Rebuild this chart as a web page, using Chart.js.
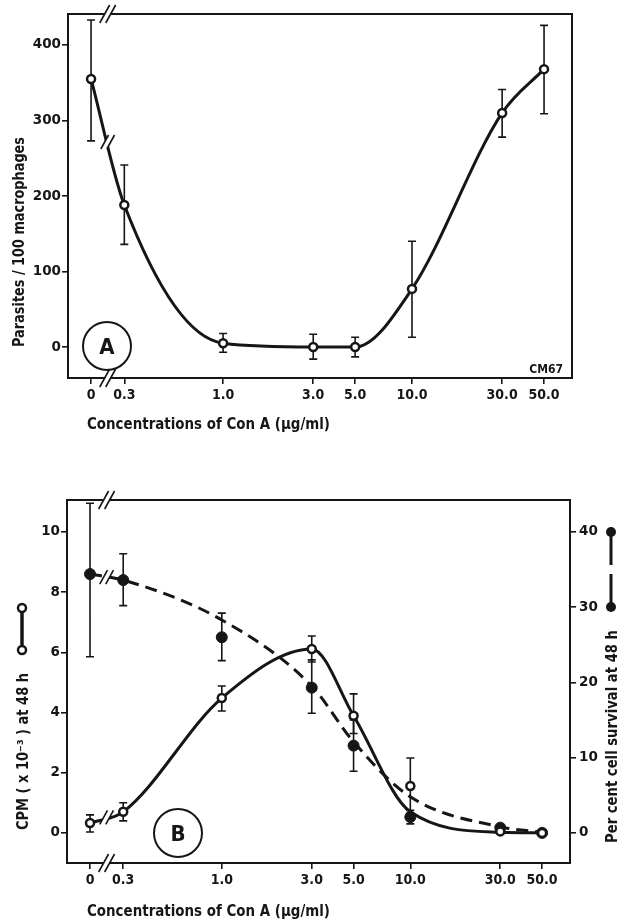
<!DOCTYPE html>
<html>
<head>
<meta charset="utf-8">
<script src="https://cdn.jsdelivr.net/npm/chart.js@4.4.1/dist/chart.umd.min.js"></script>
<style>
  html, body { margin: 0; padding: 0; background: #fff; }
  canvas { position: absolute; left: 0; }
  #chartA { top: 0; }
  #chartB { top: 440px; }
</style>
</head>
<body>
<canvas id="chartA" width="621" height="440"></canvas>
<canvas id="chartB" width="621" height="480"></canvas>
<script>
// Con A concentrations (0 is drawn past the axis break, at 0.2 on the log axis)
const concLabels = ['0', '0.3', '1.0', '3.0', '5.0', '10.0', '30.0', '50.0'];
const concPos = [0.2, 0.3, 1, 3, 5, 10, 30, 50];

// Panel A - parasites / 100 macrophages
const parasites = [355, 188, 5, 0, 0, 77, 310, 368];
const parasitesHigh = [433, 241, 18, 17, 13, 140, 341, 426];
const parasitesLow = [273, 136, -7, -16, -13, 13, 278, 309];
const parasiteTicks = [0, 100, 200, 300, 400];

// Panel B - CPM (x 10^-3) at 48 h, open circles
const cpm = [0.33, 0.7, 4.48, 6.11, 3.89, 1.56, 0.05, 0];
const cpmHigh = [0.6, 1.0, 4.88, 6.54, 4.62, 2.49, null, null];
const cpmLow = [0.03, 0.4, 4.05, 5.68, 3.3, 0.66, null, null];
const cpmCurve = [0.33, 0.7, 4.48, 6.11, 3.89, 0.7, 0.02, 0];
const cpmTicks = [0, 2, 4, 6, 8, 10];

// Panel B - per cent cell survival at 48 h, filled circles
const survival = [34.4, 33.6, 26.0, 19.3, 11.6, 2.1, 0.7, 0];
const survivalHigh = [43.8, 37.1, 29.2, 23.0, 15.0, 3.0, null, null];
const survivalLow = [23.4, 30.2, 22.9, 15.9, 8.2, 1.2, null, null];
const survivalCurve = [34.4, 33.6, 28.3, 19.5, 12.1, 4.8, 0.8, 0.1];
const survivalTicks = [0, 10, 20, 30, 40];

const ink = '#161616';
const fontWide = '"DejaVu Sans", sans-serif';
const fontNarrow = '"DejaVu Sans Condensed", "DejaVu Sans", sans-serif';
const titleFont = 'bold 15px ' + fontWide;

const pts = (vals) => concPos.map((x, i) => ({ x: x, y: vals[i] }));

function xAxis(height) {
  return {
    type: 'logarithmic',
    min: 0.151,
    max: 70.3,
    afterBuildTicks: s => { s.ticks = concPos.map(v => ({ value: v })); },
    afterFit: s => { s.height = height; },
    ticks: {
      callback: (v, i) => concLabels[i],
      autoSkip: false, maxRotation: 0, padding: 3, color: ink,
      font: { family: fontNarrow, size: 14, weight: 'bold' }
    },
    grid: { drawOnChartArea: false, tickLength: 6, color: ink, lineWidth: 1.6 },
    border: { display: false }
  };
}

function yAxis(min, max, ticks, width, position) {
  return {
    position: position,
    min: min,
    max: max,
    afterBuildTicks: s => { s.ticks = ticks.map(v => ({ value: v })); },
    afterFit: s => { s.width = width; },
    ticks: { padding: position === 'right' ? 3 : 1, color: ink, font: { family: fontWide, size: 13.5, weight: 'bold' } },
    grid: { drawOnChartArea: false, tickLength: 6, color: ink, lineWidth: 1.6 },
    border: { display: false }
  };
}

// ---- drawing helpers ----
function errorBars(chart, axisId, highs, lows) {
  const ctx = chart.ctx, xs = chart.scales.x, ys = chart.scales[axisId];
  ctx.save();
  ctx.strokeStyle = ink;
  ctx.lineWidth = 1.6;
  ctx.beginPath();
  concPos.forEach((xv, i) => {
    if (highs[i] == null) return;
    const px = xs.getPixelForValue(xv);
    const top = ys.getPixelForValue(highs[i]);
    const bot = ys.getPixelForValue(lows[i]);
    ctx.moveTo(px, top); ctx.lineTo(px, bot);
    ctx.moveTo(px - 4, top); ctx.lineTo(px + 4, top);
    ctx.moveTo(px - 4, bot); ctx.lineTo(px + 4, bot);
  });
  ctx.stroke();
  ctx.restore();
}

function breakMark(ctx, cx, cy, h) {
  const w = h * 0.55, gap = 3;
  ctx.save();
  ctx.fillStyle = '#fff';
  ctx.beginPath();
  ctx.moveTo(cx - gap - w / 2, cy + h / 2);
  ctx.lineTo(cx - gap + w / 2, cy - h / 2);
  ctx.lineTo(cx + gap + w / 2, cy - h / 2);
  ctx.lineTo(cx + gap - w / 2, cy + h / 2);
  ctx.closePath();
  ctx.fill();
  ctx.strokeStyle = ink;
  ctx.lineWidth = 1.6;
  ctx.beginPath();
  [-gap, gap].forEach(d => {
    ctx.moveTo(cx + d - w / 2, cy + h / 2);
    ctx.lineTo(cx + d + w / 2, cy - h / 2);
  });
  ctx.stroke();
  ctx.restore();
}

// break on a curve, between the "0" and "0.3" points
function curveBreak(chart, di, bx) {
  const p = chart.getDatasetMeta(di).data;
  const t = (bx - p[0].x) / (p[1].x - p[0].x);
  breakMark(chart.ctx, bx, p[0].y + t * (p[1].y - p[0].y), 14);
}

function frame(ctx, a) {
  ctx.save();
  ctx.strokeStyle = ink;
  ctx.lineWidth = 2;
  ctx.strokeRect(a.left, a.top, a.right - a.left, a.bottom - a.top);
  ctx.restore();
}

function fitText(ctx, text, x, y, width, angle) {
  ctx.save();
  ctx.font = titleFont;
  ctx.fillStyle = ink;
  ctx.textAlign = 'left';
  ctx.textBaseline = 'alphabetic';
  ctx.translate(x, y);
  ctx.rotate(angle);
  ctx.scale(width / ctx.measureText(text).width, 1);
  ctx.fillText(text, 0, 0);
  ctx.restore();
}

function panelLetter(ctx, letter, cx, cy) {
  ctx.save();
  ctx.strokeStyle = ink;
  ctx.lineWidth = 2;
  ctx.beginPath();
  ctx.arc(cx, cy, 24, 0, Math.PI * 2);
  ctx.stroke();
  ctx.fillStyle = ink;
  ctx.font = 'bold 22px ' + fontNarrow;
  ctx.textAlign = 'center';
  ctx.textBaseline = 'alphabetic';
  ctx.fillText(letter, cx, cy + 8);
  ctx.restore();
}

// ---- panel A ----
const decoA = {
  id: 'decoA',
  beforeDatasetsDraw(chart) {
    errorBars(chart, 'y', parasitesHigh, parasitesLow);
  },
  afterDatasetsDraw(chart) {
    const ctx = chart.ctx, a = chart.chartArea;
    frame(ctx, a);
    const bx = chart.scales.x.getPixelForValue(Math.sqrt(concPos[0] * concPos[1]));
    breakMark(ctx, bx, a.top, 18);
    breakMark(ctx, bx, a.bottom, 18);
    curveBreak(chart, 0, bx);
    panelLetter(ctx, 'A', a.left + 39, a.bottom - 32);
    ctx.save();
    ctx.fillStyle = ink;
    ctx.font = 'bold 12px ' + fontNarrow;
    ctx.textAlign = 'right';
    ctx.fillText('CM67', a.right - 9, a.bottom - 5);
    ctx.restore();
  },
  afterDraw(chart) {
    const ctx = chart.ctx;
    fitText(ctx, 'Concentrations of Con A (\u03bcg/ml)', 87, 429, 243, 0);
    fitText(ctx, 'Parasites / 100 macrophages', 24, 347, 210, -Math.PI / 2);
  }
};

new Chart(document.getElementById('chartA'), {
  type: 'line',
  data: {
    datasets: [{
      data: pts(parasites),
      borderColor: ink,
      borderWidth: 3,
      cubicInterpolationMode: 'monotone',
      pointRadius: 4,
      pointBorderWidth: 2.5,
      pointBackgroundColor: '#fff',
      pointBorderColor: ink
    }]
  },
  options: {
    responsive: false,
    animation: false,
    layout: { padding: { top: 14, right: 49, left: 0, bottom: 0 } },
    plugins: { legend: { display: false }, tooltip: { enabled: false } },
    scales: {
      x: xAxis(62),
      y: yAxis(-41, 441, parasiteTicks, 68, 'left')
    }
  },
  plugins: [decoA]
});

// ---- panel B ----
const decoB = {
  id: 'decoB',
  beforeDatasetsDraw(chart) {
    errorBars(chart, 'y1', survivalHigh, survivalLow);
    errorBars(chart, 'y', cpmHigh, cpmLow);
  },
  afterDatasetsDraw(chart) {
    const ctx = chart.ctx, a = chart.chartArea;
    frame(ctx, a);
    const bx = chart.scales.x.getPixelForValue(Math.sqrt(concPos[0] * concPos[1]));
    breakMark(ctx, bx, a.top, 18);
    breakMark(ctx, bx, a.bottom, 18);
    curveBreak(chart, 2, bx);
    curveBreak(chart, 3, bx);
    panelLetter(ctx, 'B', a.left + 111, a.bottom - 30);
  },
  afterDraw(chart) {
    const ctx = chart.ctx;
    fitText(ctx, 'Concentrations of Con A (\u03bcg/ml)', 87, 476, 243, 0);
    fitText(ctx, 'CPM ( x 10\u207b\u00b3 ) at 48 h', 28, 390, 157, -Math.PI / 2);
    fitText(ctx, 'Per cent cell survival at 48 h', 617, 403, 213, -Math.PI / 2);

    ctx.save();
    ctx.strokeStyle = ink;
    ctx.fillStyle = ink;
    // o---o key for CPM
    ctx.lineWidth = 3.5;
    ctx.beginPath(); ctx.moveTo(22, 207); ctx.lineTo(22, 171); ctx.stroke();
    ctx.lineWidth = 2.5;
    [210, 168].forEach(y => {
      ctx.beginPath(); ctx.arc(22, y, 4, 0, Math.PI * 2);
      ctx.fillStyle = '#fff'; ctx.fill(); ctx.stroke();
    });
    // filled key for survival
    ctx.lineWidth = 3;
    ctx.setLineDash([29, 9]);
    ctx.beginPath(); ctx.moveTo(611, 163); ctx.lineTo(611, 96); ctx.stroke();
    ctx.setLineDash([]);
    ctx.fillStyle = ink;
    [167, 92].forEach(y => {
      ctx.beginPath(); ctx.arc(611, y, 5, 0, Math.PI * 2); ctx.fill();
    });
    ctx.restore();
  }
};

new Chart(document.getElementById('chartB'), {
  type: 'line',
  data: {
    datasets: [{
      label: 'CPM',
      data: pts(cpm),
      yAxisID: 'y',
      order: 0,
      showLine: false,
      pointRadius: 4,
      pointBorderWidth: 2.5,
      pointBackgroundColor: '#fff',
      pointBorderColor: ink
    }, {
      label: 'Survival',
      data: pts(survival),
      yAxisID: 'y1',
      order: 1,
      showLine: false,
      pointRadius: 5.5,
      pointBorderWidth: 1,
      pointBackgroundColor: ink,
      pointBorderColor: ink
    }, {
      label: 'CPM curve',
      data: pts(cpmCurve),
      yAxisID: 'y',
      order: 2,
      borderColor: ink,
      borderWidth: 3,
      pointRadius: 0,
      cubicInterpolationMode: 'monotone'
    }, {
      label: 'Survival curve',
      data: pts(survivalCurve),
      yAxisID: 'y1',
      order: 3,
      borderColor: ink,
      borderWidth: 3,
      borderDash: [12, 7],
      pointRadius: 0,
      cubicInterpolationMode: 'monotone'
    }]
  },
  options: {
    responsive: false,
    animation: false,
    layout: { padding: { top: 60, right: 0, left: 0, bottom: 0 } },
    plugins: { legend: { display: false }, tooltip: { enabled: false } },
    scales: {
      x: xAxis(57),
      y: yAxis(-1.0, 11.06, cpmTicks, 67, 'left'),
      y1: yAxis(-4.0, 44.24, survivalTicks, 51, 'right')
    }
  },
  plugins: [decoB]
});
</script>
</body>
</html>
